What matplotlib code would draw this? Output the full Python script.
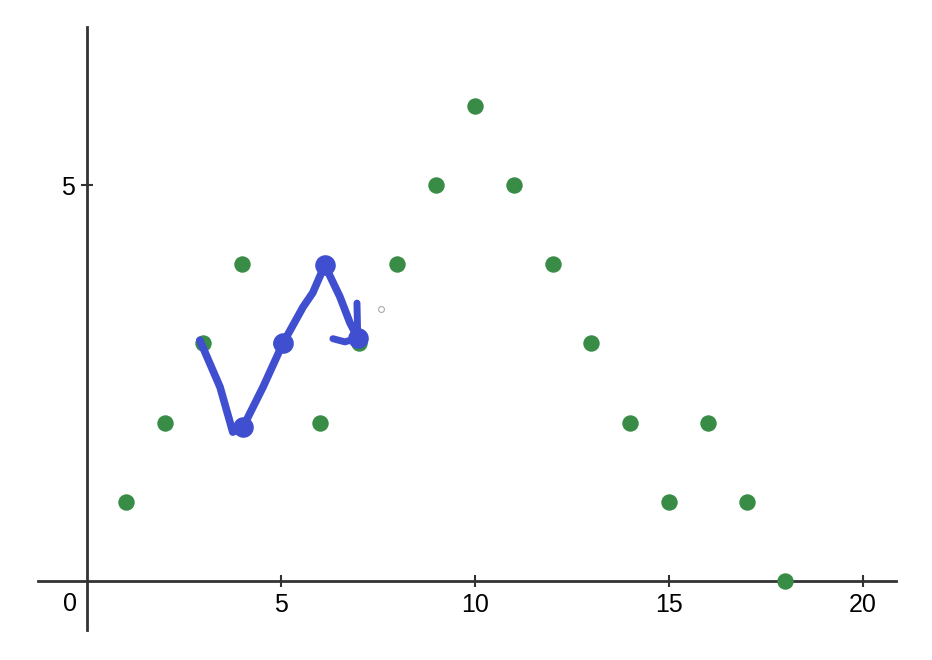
import matplotlib.pyplot as plt

plt.rcParams['font.family'] = ['Liberation Sans', 'DejaVu Sans']

# green points, desmos-ish scatter
px = [1, 2, 3, 4, 5, 6, 7, 8, 9, 10, 11, 12, 13, 14, 15, 16, 17, 18]
py = [1, 2, 3, 4, 3, 2, 3, 4, 5, 6, 5, 4, 3, 2, 1, 2, 1, 0]

# hand drawn blue stroke
sx = [2.91, 3.43, 3.76, 4.02, 4.54, 5.05, 5.57, 5.82, 6.13, 6.52, 6.78, 6.98]
sy = [3.04, 2.45, 1.88, 1.94, 2.45, 3.00, 3.46, 3.64, 3.99, 3.59, 3.26, 3.07]
hook_x = [6.34, 6.65, 6.98]
hook_y = [3.06, 3.02, 3.07]
bar_x = [6.96, 6.98]
bar_y = [3.51, 3.07]
dot_x = [4.02, 5.05, 6.13, 6.98]
dot_y = [1.94, 3.00, 3.99, 3.07]

xticks = [5, 10, 15, 20]
yticks = [5]

green = '#388c46'
blue = '#3f4fd0'

fig = plt.figure(figsize=(9.32, 6.6), dpi=100)
ax = fig.add_axes([0, 0, 1, 1])
ax.set_xlim(-2.24, 21.78)
ax.set_ylim(-1.0, 7.34)

for s in ['top', 'right']:
    ax.spines[s].set_visible(False)
ax.spines['left'].set_position(('data', 0))
ax.spines['bottom'].set_position(('data', 0))
ax.spines['left'].set_bounds(-0.62, 7.0)
ax.spines['bottom'].set_bounds(-1.27, 20.84)
for s in ['left', 'bottom']:
    ax.spines[s].set_color('#333333')
    ax.spines[s].set_linewidth(2)

ax.set_xticks(xticks)
ax.set_yticks(yticks)
ax.tick_params(direction='inout', length=9, width=1.5, color='#333333',
               labelsize=18, pad=4)
ax.annotate('0', (0, 0), xytext=(-12, -17), textcoords='offset points',
            fontsize=18, ha='center', va='center')

ax.scatter(px, py, s=140, color=green, zorder=3, linewidths=0)

ax.plot(sx, sy, color=blue, lw=5.5, solid_capstyle='round',
        solid_joinstyle='round', zorder=4)
ax.plot(hook_x, hook_y, color=blue, lw=5, solid_capstyle='round', zorder=4)
ax.plot(bar_x, bar_y, color=blue, lw=5, solid_capstyle='round', zorder=4)
ax.scatter(dot_x, dot_y, s=220, color=blue, zorder=5, linewidths=0)

ax.scatter([7.58], [3.43], s=18, facecolor='white', edgecolor='#aaaaaa',
           linewidths=0.8, zorder=5)

plt.savefig('out.png')
